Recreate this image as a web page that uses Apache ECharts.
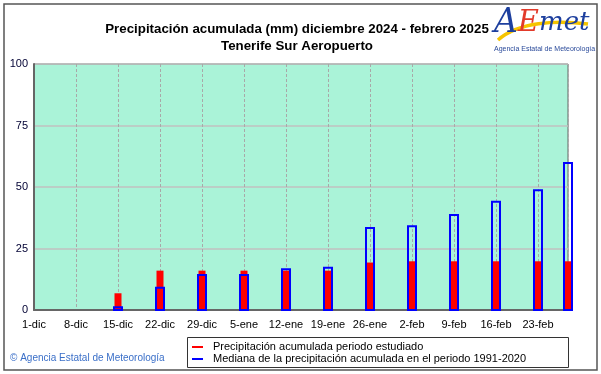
<!DOCTYPE html>
<html>
<head>
<meta charset="utf-8">
<script src="https://cdn.jsdelivr.net/npm/echarts@6/dist/echarts.min.js"></script>
<style>
html,body{margin:0;padding:0;background:#fff;}
#c{width:601px;height:374px;}
</style>
</head>
<body>
<div id="c"></div>
<script>
// Data
var tickLabels = ['1-dic','8-dic','15-dic','22-dic','29-dic','5-ene','12-ene','19-ene','26-ene','2-feb','9-feb','16-feb','23-feb'];
var barDays = [14,21,28,35,42,49,56,63,70,77,84,89]; // days since 1-dic
var observed = [6.8,16,16,16,16,16,19.3,19.8,19.8,19.8,19.8,19.8];
var median = [1.1,9,14.2,14.2,16.6,17.2,33.3,34,38.6,44,48.7,59.8];
var yTicks = [0,25,50,75,100];

var nameObs = 'Precipitación acumulada periodo estudiado';
var nameMed = 'Mediana de la precipitación acumulada en el periodo 1991-2020';

function pairs(xs, ys){ return xs.map(function(x,i){ return [x, ys[i]]; }); }

function barRenderer(width, filled){
  return function(params, api){
    var top = api.coord([api.value(0), api.value(1)]);
    var base = api.coord([api.value(0), 0]);
    var cx = Math.round(top[0]);
    if (filled) {
      return {type:'rect', shape:{x:cx - width/2, y:top[1], width:width, height:base[1]-top[1]},
              style:{fill:'#ff0000'}};
    }
    return {type:'rect', shape:{x:cx - width/2 + 0.5, y:top[1], width:width-1, height:base[1]-top[1]},
            style:{fill:'none', stroke:'#0000ff', lineWidth:2}};
  };
}

var chart = echarts.init(document.getElementById('c'), null, {renderer:'canvas'});
var FONT = 'Liberation Sans, Arial, sans-serif';
chart.setOption({
  animation:false,
  backgroundColor:'#ffffff',
  textStyle:{fontFamily:FONT},
  title:{
    text:'Precipitación acumulada (mm) diciembre 2024 - febrero 2025\nTenerife Sur Aeropuerto',
    left:292, top:16, textAlign:'center',
    textStyle:{fontSize:13.3, fontWeight:'bold', color:'#000', lineHeight:17, fontFamily:FONT}
  },
  grid:{left:34, right:33, top:64, bottom:64, show:true, backgroundColor:'#aaf3d8', borderColor:'#666', borderWidth:1},
  legend:{
    orient:'vertical', left:192, top:341, itemGap:0, itemWidth:11, itemHeight:2,
    icon:'rect', padding:0,
    textStyle:{fontSize:11, color:'#000', fontFamily:FONT, padding:[0,0,0,5], lineHeight:12},
    data:[{name:nameObs, itemStyle:{color:'#ff0000', borderWidth:0}}, {name:nameMed, itemStyle:{color:'#0000ff', borderWidth:0}}]
  },
  xAxis:{
    type:'value', min:0, max:89, interval:7,
    axisLine:{show:true, lineStyle:{color:'#666', width:2}},
    axisTick:{show:false},
    splitLine:{show:true, lineStyle:{color:'#a8a8a8', type:[3,2], width:1}},
    axisLabel:{
      fontSize:11, color:'#000', margin:9, showMaxLabel:false,
      formatter:function(v){ var i = Math.round(v/7); return (v%7===0 && tickLabels[i]) ? tickLabels[i] : ''; }
    }
  },
  yAxis:{
    type:'value', min:0, max:100, interval:25,
    axisLine:{show:true, lineStyle:{color:'#666', width:2}},
    axisTick:{show:false},
    splitLine:{show:true, lineStyle:{color:'#c0c0c0', width:1.5}},
    axisLabel:{fontSize:11, color:'#000033', margin:6,
      formatter:function(v){ return yTicks.indexOf(v)>=0 ? String(v) : ''; }}
  },
  series:[
    {name:nameObs, type:'custom', data:pairs(barDays, observed), renderItem:barRenderer(7, true),
     itemStyle:{color:'#ff0000'}, z:2, clip:false},
    {name:nameMed, type:'custom', data:pairs(barDays, median), renderItem:barRenderer(9, false),
     itemStyle:{color:'#0000ff'}, z:3, clip:false}
  ],
  graphic:[
    {type:'rect', shape:{x:4, y:4, width:593, height:366}, style:{fill:'none', stroke:'#555', lineWidth:1.5}, silent:true, z:0},
    {type:'rect', shape:{x:187.5, y:337.5, width:381, height:30}, style:{fill:'none', stroke:'#333', lineWidth:1}, silent:true},
    {type:'text', left:10, top:353, style:{text:'© Agencia Estatal de Meteorología', fill:'#3a6fc8', font:'10px '+FONT}},
    // Logo
    {type:'bezierCurve', shape:{x1:498, y1:40, x2:588, y2:24, cpx1:518, cpy1:22, cpx2:556, cpy2:20},
     style:{stroke:'#f5c400', lineWidth:3.5, fill:'none'}, z:5},
    {type:'text', left:494, top:7, z:6, style:{
      rich:{a:{fill:'#1d3f9e', font:'italic 33px DejaVu Serif, serif'}, e:{fill:'#e23a2a', font:'italic 29px DejaVu Serif, serif'}, m:{fill:'#1d3f9e', font:'italic 26px DejaVu Serif, serif'}},
      text:'{a|A}{e|E}{m|met}'}},
    {type:'text', left:494, top:46, style:{text:'Agencia Estatal de Meteorología', fill:'#2a4a9a', font:'7px '+FONT}}
  ]
});
</script>
</body>
</html>
